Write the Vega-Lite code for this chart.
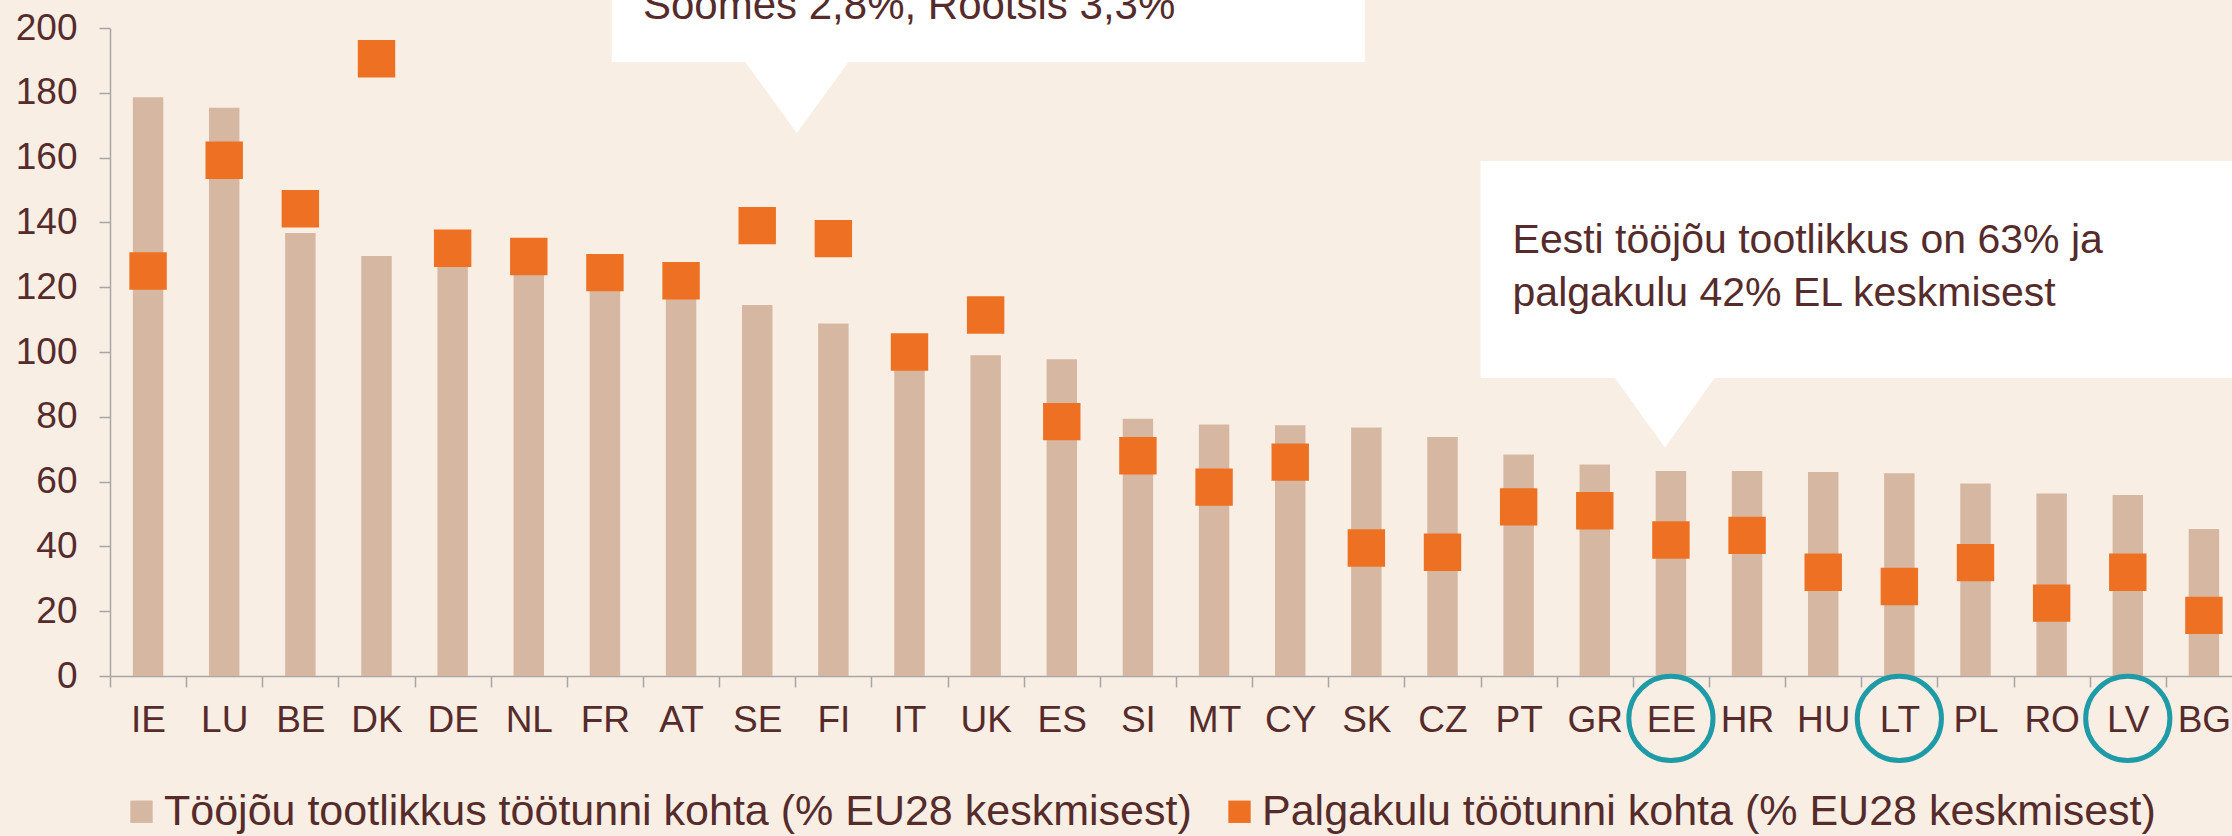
{
  "$schema": "https://vega.github.io/schema/vega-lite/v6.json",
  "width": 2122,
  "height": 648,
  "autosize": {"type": "none"},
  "padding": {"left": 110, "top": 28, "right": 0, "bottom": 160},
  "background": "#f9eee4",
  "config": {"view": {"stroke": null}, "font": "Liberation Sans"},
  "datasets": {
    "eu": [
      {"country": "IE", "prod": 178.6, "wage": 125},
      {"country": "LU", "prod": 175.4, "wage": 159.2},
      {"country": "BE", "prod": 136.7, "wage": 144.2},
      {"country": "DK", "prod": 129.6, "wage": 190.5},
      {"country": "DE", "prod": 127, "wage": 132},
      {"country": "NL", "prod": 124, "wage": 129.5},
      {"country": "FR", "prod": 119.5, "wage": 124.5},
      {"country": "AT", "prod": 117, "wage": 122},
      {"country": "SE", "prod": 114.5, "wage": 139},
      {"country": "FI", "prod": 108.8, "wage": 135},
      {"country": "IT", "prod": 98, "wage": 100},
      {"country": "UK", "prod": 99, "wage": 111.4},
      {"country": "ES", "prod": 97.8, "wage": 78.5},
      {"country": "SI", "prod": 79.4, "wage": 68},
      {"country": "MT", "prod": 77.6, "wage": 58.3},
      {"country": "CY", "prod": 77.4, "wage": 66},
      {"country": "SK", "prod": 76.7, "wage": 39.5},
      {"country": "CZ", "prod": 73.8, "wage": 38.2},
      {"country": "PT", "prod": 68.4, "wage": 52.2},
      {"country": "GR", "prod": 65.3, "wage": 51},
      {"country": "EE", "prod": 63.3, "wage": 42},
      {"country": "HR", "prod": 63.3, "wage": 43.4},
      {"country": "HU", "prod": 63, "wage": 32},
      {"country": "LT", "prod": 62.6, "wage": 27.6},
      {"country": "PL", "prod": 59.4, "wage": 35},
      {"country": "RO", "prod": 56.3, "wage": 22.5},
      {"country": "LV", "prod": 55.9, "wage": 32},
      {"country": "BG", "prod": 45.4, "wage": 18.7}
    ],
    "rings": [{"country": "EE"}, {"country": "LT"}, {"country": "LV"}],
    "one": [{}]
  },
  "layer": [
    {
      "layer": [
        {
          "data": {"name": "eu"},
          "mark": {"type": "bar", "width": {"band": 0.4}},
          "encoding": {
            "x": {
              "field": "country", "type": "nominal", "sort": null,
              "scale": {"domain": ["IE","LU","BE","DK","DE","NL","FR","AT","SE","FI","IT","UK","ES","SI","MT","CY","SK","CZ","PT","GR","EE","HR","HU","LT","PL","RO","LV","BG"], "range": [0, 2132], "paddingInner": 0, "paddingOuter": 0},
              "axis": {"title": null, "labelAngle": 0, "labelFontSize": 37, "labelColor": "#552b2b", "labelPadding": 15, "tickBand": "extent", "tickSize": 11, "tickColor": "#a6a6a6", "tickWidth": 1.5, "domainColor": "#a6a6a6", "domainWidth": 1.5, "grid": false}
            },
            "y": {
              "field": "prod", "type": "quantitative",
              "scale": {"domain": [0, 200], "nice": false, "zero": true},
              "axis": {"title": null, "values": [0,20,40,60,80,100,120,140,160,180,200], "labelFontSize": 37, "labelColor": "#552b2b", "labelPadding": 22, "tickSize": 11, "tickColor": "#a6a6a6", "tickWidth": 1.5, "domainColor": "#a6a6a6", "domainWidth": 1.5, "grid": false}
            },
            "color": {
              "datum": "Tööjõu tootlikkus töötunni kohta (% EU28 keskmisest)", "type": "nominal",
              "scale": {"domain": ["Tööjõu tootlikkus töötunni kohta (% EU28 keskmisest)", "Palgakulu töötunni kohta (% EU28 keskmisest)"], "range": ["#d5b7a2", "#ee7023"]},
              "legend": {"title": null, "orient": "none", "legendX": 10, "legendY": 762, "direction": "horizontal", "symbolType": "square", "symbolSize": 500, "symbolStrokeWidth": 0, "symbolOpacity": 1, "labelFontSize": 43, "labelColor": "#552b2b", "labelLimit": 2000, "labelOffset": 1, "columnPadding": 26, "padding": 0}
            }
          }
        },
        {
          "data": {"name": "eu"},
          "mark": {"type": "point", "shape": "square", "filled": true, "size": 1400, "opacity": 1, "strokeWidth": 0},
          "encoding": {
            "x": {"field": "country", "type": "nominal", "sort": null},
            "y": {
              "field": "wage", "type": "quantitative",
              "axis": {"title": null, "values": [0,20,40,60,80,100,120,140,160,180,200], "labelFontSize": 37, "labelColor": "#552b2b", "labelPadding": 22, "tickSize": 11, "tickColor": "#a6a6a6", "tickWidth": 1.5, "domainColor": "#a6a6a6", "domainWidth": 1.5, "grid": false}
            },
            "color": {"datum": "Palgakulu töötunni kohta (% EU28 keskmisest)", "type": "nominal"}
          }
        },
        {
          "data": {"name": "rings"},
          "mark": {"type": "point", "shape": "circle", "filled": false, "size": 7090, "opacity": 1, "stroke": "#1e9ba6", "strokeWidth": 5},
          "encoding": {
            "x": {"field": "country", "type": "nominal", "sort": null},
            "y": {
              "datum": -13.1, "type": "quantitative",
              "axis": {"title": null, "values": [0,20,40,60,80,100,120,140,160,180,200], "labelFontSize": 37, "labelColor": "#552b2b", "labelPadding": 22, "tickSize": 11, "tickColor": "#a6a6a6", "tickWidth": 1.5, "domainColor": "#a6a6a6", "domainWidth": 1.5, "grid": false}
            }
          }
        }
      ]
    },
    {
      "data": {"name": "one"},
      "layer": [
        {
          "mark": {"type": "rect", "color": "#ffffff"},
          "encoding": {
            "x": {"datum": 6.59, "type": "quantitative", "scale": {"domain": [0, 28], "range": [0, 2132], "nice": false, "zero": false}, "axis": null},
            "x2": {"datum": 16.48},
            "y": {"datum": 220, "type": "quantitative", "scale": {"domain": [0, 200], "nice": false, "zero": false}, "axis": null},
            "y2": {"datum": 189.5}
          }
        },
        {
          "mark": {"type": "point", "shape": "M-1.06,-1.46L1.06,-1.46L0,0Z", "filled": true, "size": 10000, "color": "#ffffff", "opacity": 1, "strokeWidth": 0},
          "encoding": {
            "x": {"datum": 9.02, "type": "quantitative"},
            "y": {"datum": 167.6, "type": "quantitative"}
          }
        },
        {
          "mark": {"type": "rect", "color": "#ffffff"},
          "encoding": {
            "x": {"datum": 18.0, "type": "quantitative"},
            "x2": {"datum": 30},
            "y": {"datum": 158.95, "type": "quantitative"},
            "y2": {"datum": 91.98}
          }
        },
        {
          "mark": {"type": "point", "shape": "M-1.04,-1.45L1.04,-1.45L0,0Z", "filled": true, "size": 10000, "color": "#ffffff", "opacity": 1, "strokeWidth": 0},
          "encoding": {
            "x": {"datum": 20.42, "type": "quantitative"},
            "y": {"datum": 70.5, "type": "quantitative"}
          }
        },
        {
          "mark": {"type": "text", "text": "Soomes 2,8%, Rootsis 3,3%", "align": "left", "baseline": "alphabetic", "fontSize": 42, "color": "#552b2b"},
          "encoding": {
            "x": {"datum": 7.0, "type": "quantitative"},
            "y": {"datum": 202.8, "type": "quantitative"}
          }
        },
        {
          "mark": {"type": "text", "text": ["Eesti tööjõu tootlikkus on 63% ja", "palgakulu 42% EL keskmisest"], "align": "left", "baseline": "alphabetic", "fontSize": 41, "lineHeight": 53, "color": "#552b2b"},
          "encoding": {
            "x": {"datum": 18.42, "type": "quantitative"},
            "y": {"datum": 130.5, "type": "quantitative"}
          }
        }
      ]
    }
  ],
  "resolve": {"scale": {"x": "independent", "y": "independent"}}
}
